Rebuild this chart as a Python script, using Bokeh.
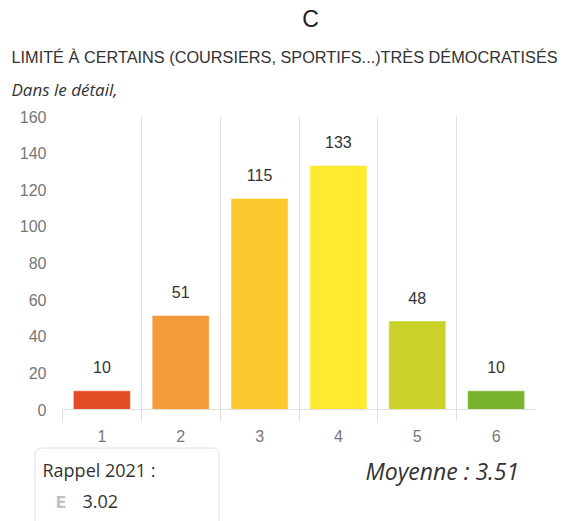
from bokeh.plotting import figure
from bokeh.models import (ColumnDataSource, Range1d, FixedTicker, Label, BoxAnnotation,
                          LabelSet)
from bokeh.layouts import column
from bokeh.core.properties import value
from bokeh.embed import file_html
from bokeh.resources import INLINE

categories = [1, 2, 3, 4, 5, 6]
counts = [10, 51, 115, 133, 48, 10]
colors = ["#e44d23", "#f39a3b", "#fbc92e", "#ffea32", "#cad22a", "#79b42f"]
y_ticks = [0, 20, 40, 60, 80, 100, 120, 140, 160]
title_text = "C"
subtitle_text = "LIMITÉ À CERTAINS (COURSIERS, SPORTIFS...)TRÈS DÉMOCRATISÉS"
detail_text = "Dans le détail,"
mean_text = "Moyenne : 3.51"
recall_title = "Rappel 2021 :"
recall_value = "3.02"

W = 572
TOP_H, MAIN_H, BOT_H = 108, 338, 75


def blank(h, y0):
    f = figure(width=W, height=h, output_backend="svg", toolbar_location=None,
               x_range=Range1d(0, W), y_range=Range1d(y0 + h, y0),
               x_axis_location=None, y_axis_location=None,
               min_border=0, min_border_left=0, min_border_right=0,
               min_border_top=0, min_border_bottom=0, frame_align=False)
    f.outline_line_color = None
    f.grid.visible = False
    return f


# ---------- header ----------
top = blank(TOP_H, 0)
top.add_layout(Label(x=310, y=18, text=title_text, text_align="center", text_baseline="middle",
                     text_font="Liberation Sans", text_font_size="23px", text_color="#222222"))
top.add_layout(Label(x=11, y=56, text=subtitle_text, text_align="left", text_baseline="middle",
                     text_font="Liberation Sans", text_font_size="16.3px", text_color="#333333"))
top.add_layout(Label(x=11, y=89, text=detail_text, text_align="left", text_baseline="middle",
                     text_font="Open Sans", text_font_style="italic", text_font_size="17px",
                     text_color="#333333"))

# ---------- main chart ----------
p = figure(width=W, height=MAIN_H, output_backend="svg", toolbar_location=None,
           x_range=Range1d(0.5, 6.5), y_range=Range1d(0, 160),
           min_border_left=62, min_border_right=W - 535, min_border_top=8,
           min_border_bottom=MAIN_H - (409 - TOP_H), frame_align=False)
p.outline_line_color = None

src = ColumnDataSource(dict(x=categories, top=counts, color=colors,
                            label=[str(c) for c in counts]))
p.vbar(x="x", top="top", width=0.71, fill_color="color", line_color="color",
       line_alpha=0.6, source=src)
p.add_layout(LabelSet(x="x", y="top", text="label", source=src, text_align="center",
                      text_baseline="bottom", y_offset=18, text_font=value("Liberation Sans"),
                      text_font_size="16px", text_color="#333333"))

p.yaxis.ticker = FixedTicker(ticks=y_ticks)
p.yaxis.axis_line_color = None
p.yaxis.major_tick_line_color = None
p.yaxis.major_tick_out = 0
p.yaxis.minor_tick_line_color = None
p.yaxis.major_label_text_font = "Liberation Sans"
p.yaxis.major_label_text_font_size = "16px"
p.yaxis.major_label_text_color = "#777777"
p.yaxis.major_label_standoff = 16

boundaries = [c - 0.5 for c in categories]
p.xaxis.ticker = FixedTicker(ticks=categories, minor_ticks=boundaries)
p.xaxis.axis_line_color = "#e0e0e0"
p.xaxis.major_tick_line_color = None
p.xaxis.major_tick_out = 0
p.xaxis.minor_tick_line_color = "#e0e0e0"
p.xaxis.minor_tick_in = 0
p.xaxis.minor_tick_out = 12
p.xaxis.major_label_text_font = "Liberation Sans"
p.xaxis.major_label_text_font_size = "16px"
p.xaxis.major_label_text_color = "#777777"
p.xaxis.major_label_standoff = 8

p.ygrid.grid_line_color = None
p.xgrid.ticker = FixedTicker(ticks=boundaries)
p.xgrid.grid_line_color = "#e0e0e0"

# ---------- footer ----------
y0 = TOP_H + MAIN_H
bot = blank(BOT_H, y0)
bot.add_layout(BoxAnnotation(left=34.5, right=218.5, top=447.5, bottom=540,
                             fill_color="white", fill_alpha=1.0, line_color="#9a9a9a",
                             line_width=1, border_radius=6))
bot.add_layout(Label(x=42, y=469, text=recall_title, text_align="left", text_baseline="middle",
                     text_font="Open Sans", text_font_size="18px", text_color="#333333"))
bot.add_layout(Label(x=55, y=502, text="E", text_align="left", text_baseline="middle",
                     text_font="DejaVu Sans", text_font_style="bold", text_font_size="16px",
                     text_color="#c0c0c0"))
bot.add_layout(Label(x=82, y=501, text=recall_value, text_align="left", text_baseline="middle",
                     text_font="Open Sans", text_font_size="18px", text_color="#333333"))
bot.add_layout(Label(x=365, y=470, text=mean_text, text_align="left", text_baseline="middle",
                     text_font="Open Sans", text_font_style="italic", text_font_size="23px",
                     text_color="#333333"))

layout = column(top, p, bot, spacing=0)
open("out.html", "w").write(file_html(layout, INLINE))
